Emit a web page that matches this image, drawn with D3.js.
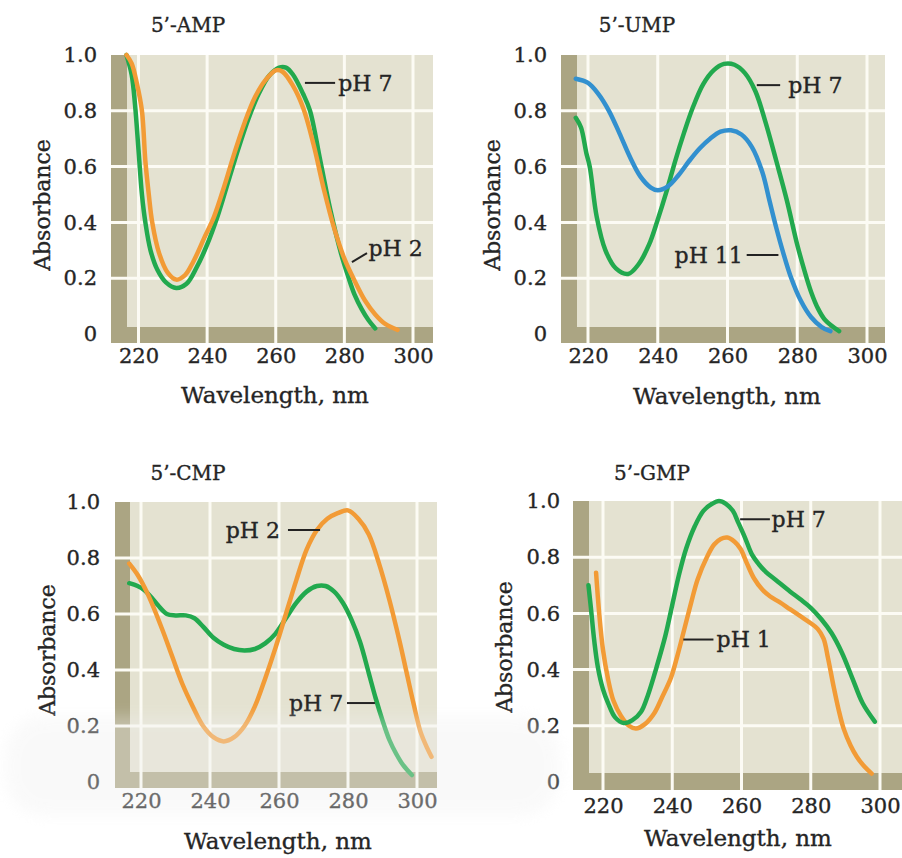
<!DOCTYPE html>
<html>
<head>
<meta charset="utf-8">
<script src="https://cdn.jsdelivr.net/npm/d3@7"></script>
<style>
  body { margin: 0; background: #fff; }
  svg { display: block; }
  text { font-family: "DejaVu Serif", serif; fill: #252525; stroke: #252525; stroke-width: 0.35px; }
</style>
</head>
<body>
<div id="draw"></div>
<script>
// tick values shared by the four panels
const xTicks = [220, 240, 260, 280, 300];
const yTicks = [0, 0.2, 0.4, 0.6, 0.8, 1.0];
const yGrid = [0.2, 0.4, 0.6, 0.8];

// 5'-AMP
const ampPh7Nm  = [216.5, 218, 219, 220, 221, 222, 223.5, 225.5, 228, 231, 234, 237, 240, 243, 246, 249, 252, 255, 258, 261, 263, 265, 268, 270, 273, 276, 279, 281, 283, 285, 287, 289];
const ampPh7Abs = [1.0, 0.93, 0.82, 0.66, 0.5, 0.4, 0.3, 0.23, 0.185, 0.165, 0.18, 0.24, 0.32, 0.42, 0.54, 0.66, 0.77, 0.86, 0.925, 0.955, 0.955, 0.93, 0.86, 0.8, 0.62, 0.44, 0.29, 0.21, 0.14, 0.09, 0.05, 0.02];
const ampPh2Nm  = [216.5, 218, 219.5, 221, 222, 223, 224, 226, 228.5, 231, 233.5, 236, 239, 242, 245, 248, 251, 254, 257, 260, 262, 265, 268, 271, 274, 277, 280, 283, 286, 289, 292, 295.5];
const ampPh2Abs = [1.0, 0.97, 0.9, 0.8, 0.62, 0.5, 0.4, 0.29, 0.22, 0.195, 0.21, 0.26, 0.34, 0.42, 0.53, 0.65, 0.76, 0.85, 0.91, 0.945, 0.94, 0.89, 0.81, 0.68, 0.52, 0.38, 0.27, 0.19, 0.12, 0.07, 0.035, 0.015];

// 5'-UMP
const umpPh11Nm  = [216.5, 220, 223, 226, 229, 232, 235, 238, 240, 243, 246, 249, 252, 255, 258, 261, 264, 267, 270, 272, 274, 276, 278, 281, 284, 287, 289.5];
const umpPh11Abs = [0.915, 0.9, 0.86, 0.8, 0.72, 0.635, 0.565, 0.525, 0.515, 0.53, 0.57, 0.62, 0.665, 0.7, 0.725, 0.73, 0.715, 0.67, 0.58, 0.48, 0.38, 0.29, 0.21, 0.12, 0.06, 0.025, 0.01];
const umpPh7Nm  = [216.5, 218, 219.5, 220.5, 222.5, 225, 228, 231.5, 234.5, 237.5, 240, 242.5, 245, 247.5, 250, 253, 256, 259, 262, 265, 268, 271, 274, 277, 280, 282, 284, 286, 288, 292];
const umpPh7Abs = [0.775, 0.74, 0.65, 0.6, 0.42, 0.3, 0.235, 0.215, 0.25, 0.32, 0.41, 0.51, 0.62, 0.72, 0.81, 0.895, 0.945, 0.968, 0.965, 0.935, 0.87, 0.755, 0.62, 0.48, 0.32, 0.23, 0.15, 0.09, 0.05, 0.01];

// 5'-CMP
const cmpPh2Nm  = [216.6, 219, 222, 226, 229, 232, 235, 238, 241, 244, 247, 250, 253, 256, 259, 262, 265, 268, 271, 274, 277, 280, 283, 286, 289, 292, 295, 297, 299, 301, 303, 304.2];
const cmpPh2Abs = [0.78, 0.74, 0.67, 0.55, 0.45, 0.35, 0.27, 0.2, 0.16, 0.145, 0.16, 0.2, 0.27, 0.37, 0.48, 0.6, 0.72, 0.83, 0.9, 0.94, 0.96, 0.97, 0.94, 0.885, 0.78, 0.65, 0.5, 0.39, 0.28, 0.18, 0.12, 0.09];
const cmpPh7Nm  = [216.6, 219, 221, 223, 225, 227.5, 230, 233, 235.5, 238, 241, 244, 247, 250, 253, 256, 259, 262, 265, 268, 271, 273.5, 276, 278.5, 281, 283.5, 286, 288, 290, 292, 294, 296, 298.5];
const cmpPh7Abs = [0.71, 0.7, 0.685, 0.66, 0.63, 0.6, 0.595, 0.595, 0.585, 0.555, 0.515, 0.49, 0.475, 0.47, 0.475, 0.495, 0.53, 0.585, 0.64, 0.68, 0.7, 0.7, 0.68, 0.64, 0.58, 0.5, 0.39, 0.3, 0.22, 0.15, 0.1, 0.06, 0.025];

// 5'-GMP
const gmpPh7Nm  = [215.8, 216.5, 217.5, 218.5, 220, 221.5, 223.5, 226, 228.5, 231, 233, 235.5, 238, 240, 242, 244, 246.5, 249, 251.5, 253.5, 255.5, 257.5, 259, 261, 263, 265, 267, 270, 274, 277, 280, 283, 286, 289, 292, 295, 298.5];
const gmpPh7Abs = [0.7, 0.62, 0.5, 0.41, 0.33, 0.28, 0.23, 0.21, 0.22, 0.25, 0.31, 0.41, 0.52, 0.63, 0.74, 0.83, 0.91, 0.965, 0.99, 1.0, 0.99, 0.965, 0.925, 0.87, 0.81, 0.775, 0.748, 0.718, 0.678, 0.65, 0.62, 0.58, 0.53, 0.46, 0.37, 0.28, 0.215];
const gmpPh1Nm  = [218, 218.9, 220, 221.4, 223, 225.2, 227.5, 229.5, 232, 234.8, 237, 239.6, 241.5, 243.4, 245.5, 247.3, 250, 252.1, 254, 255.9, 258, 259.7, 261.5, 263.6, 266, 268.3, 271, 274, 277, 280, 282, 283.7, 285, 286.6, 288, 289.5, 291.5, 293.3, 295.5, 297.6];
const gmpPh1Abs = [0.745, 0.6, 0.47, 0.37, 0.29, 0.235, 0.2, 0.19, 0.205, 0.245, 0.3, 0.37, 0.45, 0.54, 0.64, 0.72, 0.8, 0.845, 0.865, 0.87, 0.855, 0.83, 0.78, 0.725, 0.685, 0.66, 0.64, 0.615, 0.59, 0.565, 0.545, 0.51, 0.44, 0.34, 0.26, 0.19, 0.13, 0.09, 0.055, 0.03];

const GREEN = "#22a94e", ORANGE = "#f29b36", BLUE = "#3290cf";

// page layout of each panel (pixels) and where its labels sit (data units)
const panels = [
  { title: "5\u2019-AMP", left: 111, right: 433, x220: 138.5, x300: 413, y0: 334, y1: 55, bandTop: 327, bandBottom: 343, bandRight: 127,
    titleX: 188, titleY: 32, yPad: 14, xPad: 5, xTitleX: 275, xTitleY: 403, yTitleX: 50, yTitleY: 205,
    series: [
      { nm: ampPh7Nm, abs: ampPh7Abs, color: GREEN },
      { nm: ampPh2Nm, abs: ampPh2Abs, color: ORANGE }],
    labels: [
      { text: "pH 7", at: [278.2, 0.9], anchor: "start", lead: [[268.5, 0.9], [277.3, 0.9]] },
      { text: "pH 2", at: [287, 0.308], anchor: "start", lead: [[282.2, 0.258], [286.6, 0.29]] }] },
  { title: "5\u2019-UMP", left: 561, right: 885, x220: 588, x300: 867, y0: 334, y1: 55, bandTop: 327, bandBottom: 343, bandRight: 577,
    titleX: 637, titleY: 32, yPad: 14, xPad: 5, xTitleX: 727, xTitleY: 404, yTitleX: 500, yTitleY: 205,
    series: [
      { nm: umpPh7Nm, abs: umpPh7Abs, color: GREEN },
      { nm: umpPh11Nm, abs: umpPh11Abs, color: BLUE }],
    labels: [
      { text: "pH 7", at: [277.4, 0.892], anchor: "start", lead: [[268.4, 0.892], [275.1, 0.892]] },
      { text: "pH 11", at: [264.4, 0.283], anchor: "end", lead: [[265.5, 0.283], [274.6, 0.283]] }] },
  { title: "5\u2019-CMP", left: 115, right: 437, x220: 141, x300: 417, y0: 782, y1: 502, bandTop: 772, bandBottom: 788, bandRight: 130,
    titleX: 188, titleY: 480, yPad: 15, xPad: 5, xTitleX: 278, xTitleY: 849, yTitleX: 55, yTitleY: 650,
    series: [
      { nm: cmpPh7Nm, abs: cmpPh7Abs, color: GREEN },
      { nm: cmpPh2Nm, abs: cmpPh2Abs, color: ORANGE }],
    labels: [
      { text: "pH 2", at: [260.3, 0.9], anchor: "end", lead: [[262.6, 0.9], [271.9, 0.9]] },
      { text: "pH 7", at: [278.6, 0.282], anchor: "end", lead: [[279.7, 0.282], [287.8, 0.282]] }] },
  { title: "5\u2019-GMP", left: 573, right: 902, x220: 603, x300: 880, y0: 782, y1: 501, bandTop: 773, bandBottom: 790, bandRight: 589,
    titleX: 652, titleY: 480, yPad: 13, xPad: 8, xTitleX: 738, xTitleY: 846, yTitleX: 512, yTitleY: 647,
    series: [
      { nm: gmpPh1Nm, abs: gmpPh1Abs, color: ORANGE },
      { nm: gmpPh7Nm, abs: gmpPh7Abs, color: GREEN }],
    labels: [
      { text: "pH 7", at: [268.7, 0.935], anchor: "start", lead: [[259.6, 0.935], [268.2, 0.935]] },
      { text: "pH 1", at: [252.8, 0.507], anchor: "start", lead: [[243.2, 0.507], [251.9, 0.507]] }] }
];

const svg = d3.select("#draw").append("svg")
  .attr("width", 902)
  .attr("height", 858);

// soft edge for the faint glare band
svg.append("defs").append("filter")
  .attr("id", "soft")
  .attr("x", "-10%").attr("y", "-30%").attr("width", "120%").attr("height", "160%")
  .append("feGaussianBlur").attr("stdDeviation", 7);

panels.forEach(p => {
  const x = d3.scaleLinear().domain([220, 300]).range([p.x220, p.x300]);
  const y = d3.scaleLinear().domain([0, 1]).range([p.y0, p.y1]);
  const g = svg.append("g");

  // beige field with the darker L-shaped band
  g.append("rect")
    .attr("x", p.left).attr("y", p.y1)
    .attr("width", p.right - p.left).attr("height", p.bandBottom - p.y1)
    .attr("fill", "#e4e2d1");
  g.append("rect")
    .attr("x", p.left).attr("y", p.y1)
    .attr("width", p.bandRight - p.left).attr("height", p.bandBottom - p.y1)
    .attr("fill", "#aba583");
  g.append("rect")
    .attr("x", p.left).attr("y", p.bandTop)
    .attr("width", p.right - p.left).attr("height", p.bandBottom - p.bandTop)
    .attr("fill", "#aba583");

  // white grid
  g.selectAll(".vg").data(xTicks).join("line")
    .attr("x1", d => x(d)).attr("x2", d => x(d))
    .attr("y1", p.y1).attr("y2", p.bandBottom)
    .attr("stroke", "#fcfbf4").attr("stroke-width", 3);
  g.selectAll(".hg").data(yGrid).join("line")
    .attr("x1", p.left).attr("x2", p.right)
    .attr("y1", d => y(d)).attr("y2", d => y(d))
    .attr("stroke", "#fcfbf4").attr("stroke-width", 3);

  // spectra
  const line = d3.line()
    .x(d => x(d[0]))
    .y(d => y(d[1]))
    .curve(d3.curveCatmullRom.alpha(0.5));
  p.series.forEach(s => {
    g.append("path")
      .datum(d3.zip(s.nm, s.abs))
      .attr("d", line)
      .attr("fill", "none")
      .attr("stroke", s.color)
      .attr("stroke-width", 4.5)
      .attr("stroke-linecap", "round")
      .attr("stroke-linejoin", "round");
  });

  // labels with leader lines
  p.labels.forEach(l => {
    g.append("line")
      .attr("x1", x(l.lead[0][0])).attr("y1", y(l.lead[0][1]))
      .attr("x2", x(l.lead[1][0])).attr("y2", y(l.lead[1][1]))
      .attr("stroke", "#222").attr("stroke-width", 2);
    g.append("text")
      .attr("x", x(l.at[0])).attr("y", y(l.at[1]))
      .attr("dy", "0.35em")
      .attr("text-anchor", l.anchor)
      .style("font-size", "22px")
      .text(l.text);
  });

  // axes
  const xAxis = g.append("g")
    .attr("transform", "translate(0," + p.bandBottom + ")")
    .call(d3.axisBottom(x).tickValues(xTicks).tickSize(0).tickPadding(p.xPad));
  const yAxis = g.append("g")
    .attr("transform", "translate(" + p.left + ",0)")
    .call(d3.axisLeft(y).tickValues(yTicks).tickSize(0).tickPadding(p.yPad)
      .tickFormat(d => d === 0 ? "0" : d3.format(".1f")(d)));
  [xAxis, yAxis].forEach(a => {
    a.select(".domain").remove();
    a.selectAll("text")
      .style("font-family", "DejaVu Serif")
      .style("font-size", "21px")
      .attr("fill", "#252525");
  });

  g.append("text")
    .attr("x", p.titleX).attr("y", p.titleY)
    .attr("text-anchor", "middle")
    .style("font-size", "20px")
    .text(p.title);
  g.append("text")
    .attr("x", p.xTitleX).attr("y", p.xTitleY)
    .attr("text-anchor", "middle")
    .style("font-size", "23px")
    .text("Wavelength, nm");
  g.append("text")
    .attr("transform", "translate(" + p.yTitleX + "," + p.yTitleY + ") rotate(-90)")
    .attr("text-anchor", "middle")
    .style("font-size", "22px")
    .text("Absorbance");
});

// faint light band lying across the lower-left of the picture
svg.append("rect")
  .attr("x", 5).attr("y", 716)
  .attr("width", 555).attr("height", 100)
  .attr("rx", 40)
  .attr("fill", "#f0f0f0")
  .attr("opacity", 0.35)
  .attr("filter", "url(#soft)");
</script>
</body>
</html>
